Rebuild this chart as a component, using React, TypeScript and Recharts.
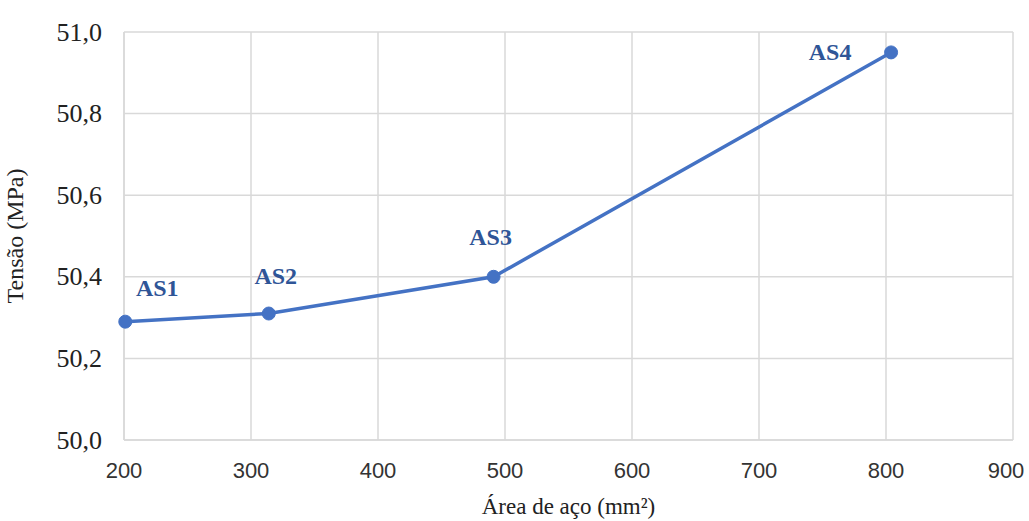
import { CartesianGrid, LabelList, Line, LineChart, XAxis, YAxis } from "recharts";

const areas = [201, 314, 491, 804];
const tensions = [50.29, 50.31, 50.4, 50.95];
const names = ["AS1", "AS2", "AS3", "AS4"];
const xTicks = [200, 300, 400, 500, 600, 700, 800, 900];
const yTicks = [50, 50.2, 50.4, 50.6, 50.8, 51];

// manual label placement, as in the original (dx, dy from the point)
const labelOffsets = [
  [32, -34],
  [7, -38],
  [-3, -40],
  [-61, 0],
];

const data = areas.map((a, i) => ({ area: a, tensao: tensions[i], name: names[i] }));

const SERIF = "'Liberation Serif', 'Times New Roman', serif";
const SANS = "'Liberation Sans', Arial, sans-serif";

const renderName = (props: any) => {
  const { x, y, index, value } = props;
  const [dx, dy] = labelOffsets[index];
  return (
    <text
      x={x + dx}
      y={y + dy}
      textAnchor="middle"
      dominantBaseline="central"
      style={{ fontFamily: SERIF, fontWeight: "bold", fontSize: 24 }}
      fill="#2F5597"
    >
      {value}
    </text>
  );
};

const XTick = (props: any) => {
  const { x, y, payload } = props;
  // keep the last label inside the frame, like the original
  const cx = Math.min(x, 1006);
  return (
    <text
      x={cx}
      y={y + 14}
      textAnchor="middle"
      dominantBaseline="hanging"
      style={{ fontFamily: SANS, fontSize: 22 }}
      fill="#333"
    >
      {payload.value}
    </text>
  );
};

const YTick = (props: any) => {
  const { x, y, payload } = props;
  return (
    <text
      x={x - 14}
      y={y}
      textAnchor="end"
      dominantBaseline="central"
      style={{ fontFamily: SERIF, fontSize: 26 }}
      fill="#222"
    >
      {payload.value.toFixed(1).replace(".", ",")}
    </text>
  );
};

export default function App() {
  return (
    <div style={{ position: "absolute", left: 0, top: 0, background: "#fff" }}>
      <LineChart
        width={1029}
        height={521}
        data={data}
        margin={{ top: 32, right: 16, bottom: 0, left: 0 }}
      >
        <CartesianGrid stroke="#d9d9d9" strokeWidth={1.5} />
        <XAxis
          dataKey="area"
          type="number"
          domain={[200, 900]}
          ticks={xTicks}
          interval={0}
          tickLine={false}
          axisLine={{ stroke: "#d9d9d9", strokeWidth: 1.5 }}
          tick={<XTick />}
          height={81}
          label={{
            value: "Área de aço (mm²)",
            position: "insideBottom",
            offset: 7,
            style: { fontFamily: SERIF, fontSize: 23, fill: "#222" },
          }}
        />
        <YAxis
          type="number"
          domain={[50, 51]}
          ticks={yTicks}
          interval={0}
          tickLine={false}
          axisLine={{ stroke: "#d9d9d9", strokeWidth: 1.5 }}
          tick={<YTick />}
          width={124}
          label={{
            value: "Tensão (MPa)",
            angle: -90,
            position: "insideLeft",
            offset: 14,
            style: { textAnchor: "middle", fontFamily: SERIF, fontSize: 24, fill: "#222" },
          }}
        />
        <Line
          dataKey="tensao"
          stroke="#4472C4"
          strokeWidth={3.5}
          dot={{ r: 6.5, fill: "#4472C4", stroke: "#4472C4", strokeWidth: 1 }}
          isAnimationActive={false}
        >
          <LabelList dataKey="name" content={renderName} />
        </Line>
      </LineChart>
    </div>
  );
}
